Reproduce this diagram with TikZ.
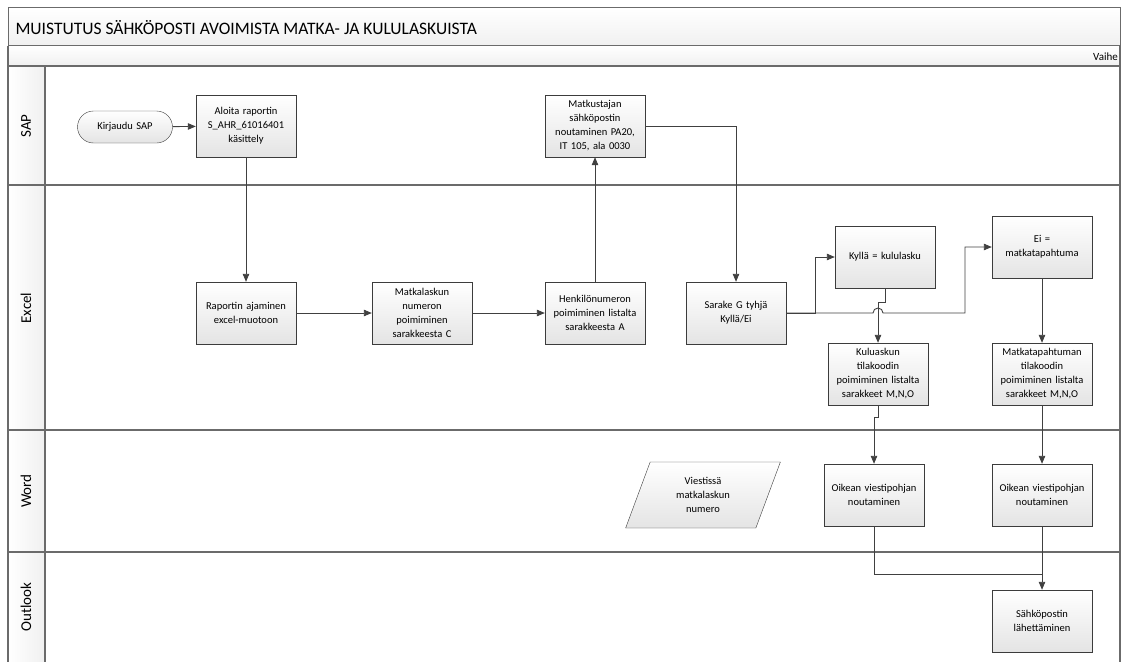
\documentclass[tikz,border=0pt]{standalone}
\usepackage{fontspec}
\setmainfont{Carlito}
\usetikzlibrary{arrows.meta,shapes.geometric}
\definecolor{boxline}{HTML}{3C3C3C}
\definecolor{boxfill}{HTML}{E4E4E4}
\definecolor{laneline}{HTML}{6B6B6B}
\definecolor{headfill}{HTML}{F0F0F0}
\definecolor{flowline}{HTML}{404040}
\begin{document}
\begin{tikzpicture}[x=1pt,y=1pt,
    task/.style={draw=boxline, top color=white, bottom color=boxfill,
      minimum width=100pt, minimum height=62pt, text width=97pt,
      align=center, inner sep=1pt, font=\fontsize{10.5}{14}\selectfont},
    terminal/.style={task, rounded corners=16pt, minimum width=95pt,
      minimum height=32pt, text width=80pt},
    datanode/.style={task, trapezium, trapezium left angle=63,
      trapezium right angle=117, trapezium stretches=true,
      minimum width=155pt, minimum height=66pt, text width=80pt},
    lanelabel/.style={rotate=90, font=\fontsize{15}{17}\selectfont},
    band/.style={draw=laneline, line width=1pt, top color=white, bottom color=headfill},
    frame/.style={draw=laneline, line width=1.2pt},
    flow/.style={draw=flowline, line width=0.9pt, -{Triangle[length=8pt,width=6.5pt]}},
    plain/.style={draw=flowline, line width=0.9pt}]
  \clip (0,0) rectangle (1126,-661);
  \useasboundingbox (0,0) rectangle (1126,-661);

  % header bands and lanes
  \draw[band] (8,-8) rectangle (1120,-46);
  \draw[band] (8,-46) rectangle (1120,-66);
  \fill[left color=white, right color=headfill] (8,-66) rectangle (45,-670);
  \node[anchor=west, font=\fontsize{17.5}{19}\selectfont] (title) at (12,-28)
    {MUISTUTUS SÄHKÖPOSTI AVOIMISTA MATKA- JA KULULASKUISTA};
  \node[anchor=east, font=\fontsize{11}{12}\selectfont, inner sep=1pt] (phase) at (1119,-57) {Vaihe};
  \foreach \y in {66,185,430,552}
    \draw[frame] (8,-\y) -- (1120,-\y);
  \draw[frame] (8,-46) -- (8,-670);
  \draw[frame] (45,-66) -- (45,-670);
  \draw[frame] (1120,-46) -- (1120,-670);
  \node[lanelabel] (lsap) at (26,-126) {SAP};
  \node[lanelabel] (lexcel) at (26,-308) {Excel};
  \node[lanelabel] (lword) at (26,-491) {Word};
  \node[lanelabel] (loutlook) at (26,-607) {Outlook};

  % SAP
  \node[terminal] (login) at (125,-127) {Kirjaudu SAP};
  \node[task] (start) at (246,-126) {Aloita raportin\\S\_AHR\_61016401\\käsittely};
  \node[task] (email) at (595,-126) {Matkustajan\\sähköpostin\\noutaminen PA20,\\IT 105, ala 0030};

  % Excel
  \node[task] (run) at (246,-313) {Raportin ajaminen\\excel-muotoon};
  \node[task] (invno) at (422,-313) {Matkalaskun\\numeron\\poimiminen\\sarakkeesta C};
  \node[task] (persno) at (595,-313) {Henkilönumeron\\poimiminen listalta\\sarakkeesta A};
  \node[task] (colg) at (736,-313) {Sarake G tyhjä\\Kyllä/Ei};
  \node[task] (yes) at (885,-257) {Kyllä = kululasku};
  \node[task] (no) at (1042,-247) {Ei =\\matkatapahtuma};
  \node[task] (expcode) at (878,-374) {Kuluaskun\\tilakoodin\\poimiminen listalta\\sarakkeet M,N,O};
  \node[task] (tripcode) at (1042,-374) {Matkatapahtuman\\tilakoodin\\poimiminen listalta\\sarakkeet M,N,O};

  % Word
  \node[datanode] (msg) at (703,-495) {Viestissä\\matkalaskun\\numero};
  \node[task] (tmpla) at (874,-495) {Oikean viestipohjan\\noutaminen};
  \node[task] (tmplb) at (1042,-495) {Oikean viestipohjan\\noutaminen};

  % Outlook
  \node[task] (send) at (1042,-621) {Sähköpostin\\lähettäminen};

  \coordinate (forkyes) at (815,-313);
  \coordinate (hopl) at (873,-313);
  \coordinate (forkno) at (965,-313);
  \coordinate (merge) at (1042,-574);

  \begin{scope}[flow]
    \draw (login) -- (start);
    \draw (start) -- (run);
    \draw (run) -- (invno);
    \draw (invno) -- (persno);
    \draw (persno) -- (email);
    \draw (email) -| (colg);
    \draw (colg.east) -- (forkyes) |- (yes);
    \draw (colg.east) -- (hopl) arc (180:0:5) -- (forkno) |- (no);
    \draw (yes.south) -- ++(0,-14) -| (expcode.north);
    \draw (no) -- (tripcode);
    \draw (expcode.south) -- ++(0,-12) -| (tmpla.north);
    \draw (tripcode) -- (tmplb);
    \draw (tmplb) -- (send);
  \end{scope}
  \draw[plain] (tmpla.south) |- (merge);
\end{tikzpicture}
\end{document}
